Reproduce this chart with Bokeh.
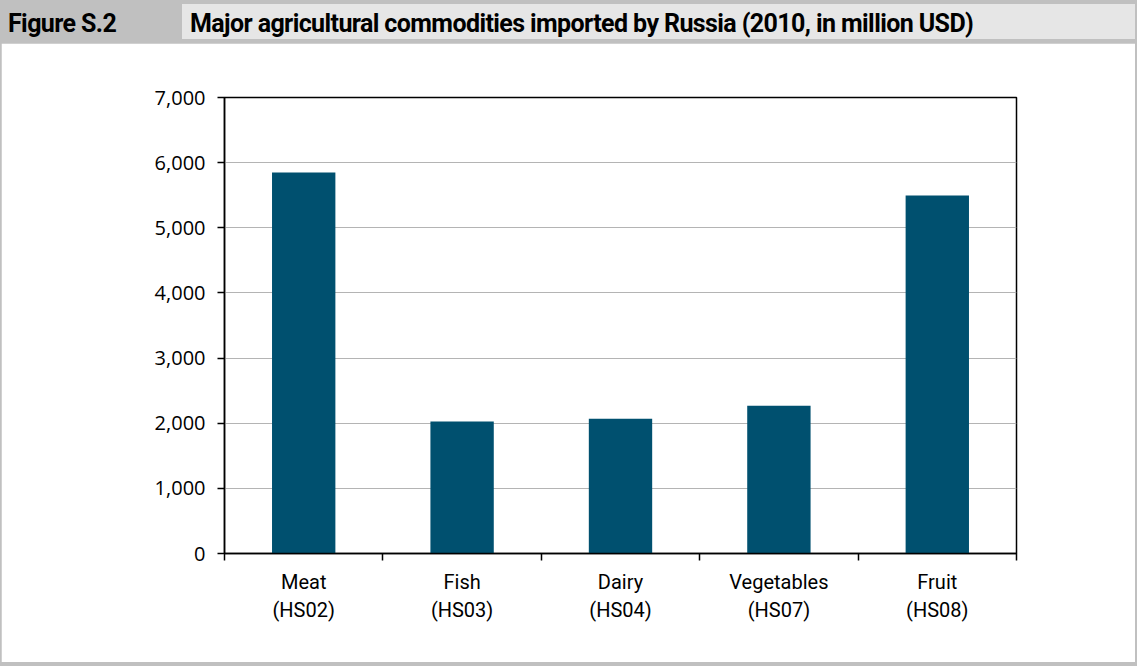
from bokeh.plotting import figure
from bokeh.models import Div, FixedTicker, NumeralTickFormatter, ColumnDataSource, Range1d
from bokeh.layouts import column
from bokeh.embed import file_html
from bokeh.resources import INLINE

# ---- data ----
figure_label = "Figure S.2"
title_text = "Major agricultural commodities imported by Russia (2010, in million USD)"
commodities = ["Meat", "Fish", "Dairy", "Vegetables", "Fruit"]
hs_codes = ["(HS02)", "(HS03)", "(HS04)", "(HS07)", "(HS08)"]
import_values = [5850, 2025, 2070, 2270, 5495]
y_ticks = [0, 1000, 2000, 3000, 4000, 5000, 6000, 7000]

HEAD_FONT = "Roboto, sans-serif"

header_html = f"""
<div style="position:relative;width:1137px;height:43px;background:#c0c0c0;overflow:hidden;
 font-family:{HEAD_FONT};font-weight:bold;font-size:25px;color:#000;letter-spacing:-0.6px;">
  <div style="position:absolute;left:182px;top:4px;width:953px;height:35px;background:#e6e6e6;"></div>
  <span style="position:absolute;left:8px;top:2px;line-height:43px;white-space:nowrap;">{figure_label}</span>
  <span style="position:absolute;left:190px;top:2px;line-height:43px;white-space:nowrap;">{title_text}</span>
</div>
"""
header = Div(text=header_html, width=1137, height=43, margin=(0, 0, 0, 0))

n = len(commodities)
xs = [i + 0.5 for i in range(n)]
src = ColumnDataSource(dict(x=xs, top=import_values, name=commodities))

p = figure(width=1134, height=619, output_backend="svg", toolbar_location=None,
           x_range=Range1d(0, n), y_range=Range1d(0, 7000),
           min_border_left=223, min_border_right=119, min_border_top=54, min_border_bottom=109,
           margin=(0, 2, 4, 1))
p.background_fill_color = "white"
p.border_fill_color = "white"
p.outline_line_color = "black"
p.outline_line_width = 1.5

p.vbar(x="x", top="top", width=0.4, bottom=0, source=src,
       fill_color="#00506F", line_color=None)

# y axis
p.yaxis.ticker = FixedTicker(ticks=y_ticks)
p.yaxis.formatter = NumeralTickFormatter(format="0,0")
p.yaxis.major_tick_out = 7
p.yaxis.major_tick_in = 0
p.yaxis.minor_tick_line_color = None
p.yaxis.axis_line_color = "black"
p.yaxis.axis_line_width = 1.5
p.yaxis.major_tick_line_width = 1.5
p.yaxis.major_label_text_font = "Open Sans"
p.yaxis.major_label_text_font_size = "20px"
p.yaxis.major_label_text_color = "#000000"
p.yaxis.major_label_standoff = 12

# x axis: labels at centres, ticks at boundaries
p.xaxis.ticker = FixedTicker(ticks=xs, minor_ticks=list(range(n + 1)))
p.xaxis.major_label_overrides = {x: f"{c}\n{h}" for x, c, h in zip(xs, commodities, hs_codes)}
p.xaxis.major_tick_out = 0
p.xaxis.major_tick_in = 0
p.xaxis.minor_tick_out = 7
p.xaxis.minor_tick_in = 0
p.xaxis.minor_tick_line_width = 1.5
p.xaxis.axis_line_color = "black"
p.xaxis.axis_line_width = 1.5
p.xaxis.major_label_text_font = "Roboto"
p.xaxis.major_label_text_font_size = "20px"
p.xaxis.major_label_text_color = "#000000"
p.xaxis.major_label_standoff = 9

p.xgrid.grid_line_color = None
p.ygrid.ticker = FixedTicker(ticks=y_ticks)
p.ygrid.grid_line_color = "#b4b4b4"
p.ygrid.grid_line_width = 1

layout = column(header, p, styles={"background-color": "#c0c0c0"}, spacing=0)

open("out.html", "w").write(file_html(layout, INLINE))
